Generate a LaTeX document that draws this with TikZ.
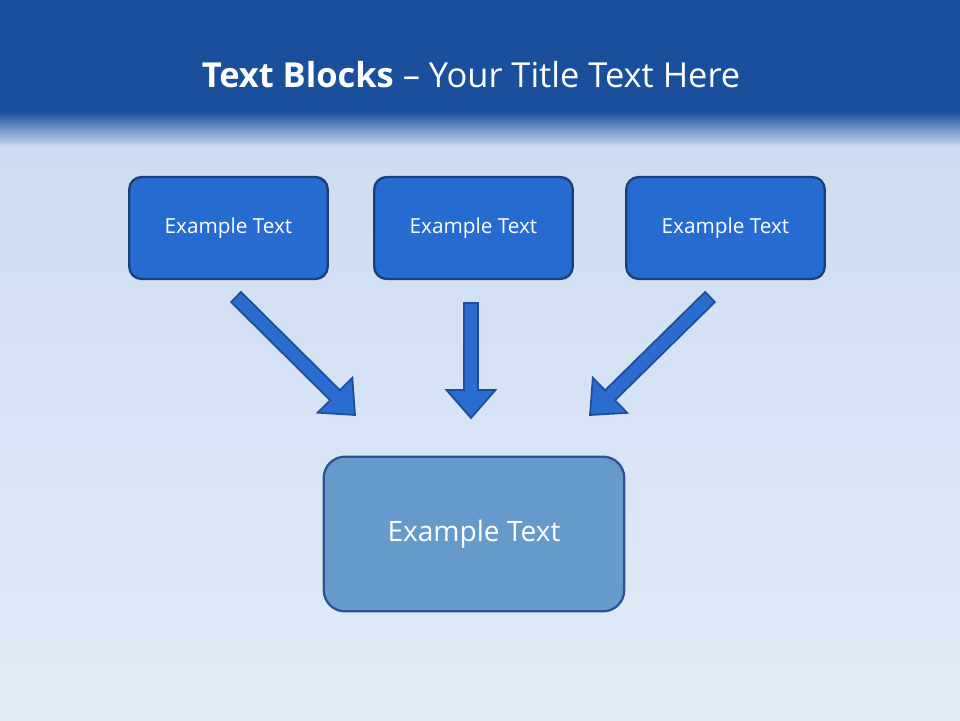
\documentclass[tikz,border=0pt]{standalone}
\usepackage{fontspec}
\setmainfont{Open Sans}
\usetikzlibrary{calc}
\definecolor{hdr}{HTML}{1A4F9C}
\definecolor{sky}{HTML}{C8D8F0}
\definecolor{skyb}{HTML}{E2ECF8}
\definecolor{boxf}{HTML}{266BD0}
\definecolor{boxd}{HTML}{1B3F78}
\definecolor{bigf}{HTML}{6699CC}
\definecolor{bigd}{HTML}{2B5590}
\definecolor{arrf}{HTML}{2A6CD0}
\definecolor{arrd}{HTML}{1E4E9A}
\tikzset{
 topbox/.style={draw=boxd,line width=1.3pt,fill=boxf,rounded corners=7pt,minimum width=113pt,minimum height=58pt,text=white,font=\fontsize{11.8}{14}\selectfont},
 bigbox/.style={draw=bigd,line width=1.3pt,fill=bigf,rounded corners=12pt,minimum width=171pt,minimum height=88pt,text=white,font=\fontsize{16}{19}\selectfont},
 blockarrow/.style={draw=arrd,line width=1pt,fill=arrf,line join=miter}
}
\newcommand{\barrow}[2]{%
 \draw[blockarrow] ($(#1)!4pt!90:(#2)$) -- ($($(#2)!16pt!(#1)$)!4pt!90:(#2)$) -- ($($(#2)!16pt!(#1)$)!14pt!90:(#2)$) -- (#2) -- ($($(#2)!16pt!(#1)$)!14pt!-90:(#2)$) -- ($($(#2)!16pt!(#1)$)!4pt!-90:(#2)$) -- ($(#1)!4pt!-90:(#2)$) -- cycle;}
\begin{document}
\begin{tikzpicture}[x=0.02cm,y=-0.02cm]
\useasboundingbox (0,0) rectangle (960,720);
\shade[bottom color=skyb,top color=sky] (0,0) rectangle (960,720);
\fill[hdr] (0,0) rectangle (960,112);
\shade[top color=hdr,bottom color=sky] (0,111.5) rectangle (960,146);
\node[text=white,font=\fontsize{19.6}{23}\selectfont] (title) at (471,75) {\textbf{Text Blocks} – Your Title Text Here};
\node[topbox] (b1) at (228.5,228) {Example Text};
\node[topbox] (b2) at (473.5,228) {Example Text};
\node[topbox] (b3) at (725.5,228) {Example Text};
\node[bigbox] (b4) at (474,534) {Example Text};
\coordinate (a1s) at (236,297); \coordinate (a1e) at (355,415);
\coordinate (a2s) at (471,303); \coordinate (a2e) at (471,418);
\coordinate (a3s) at (710,297); \coordinate (a3e) at (590,415);
\barrow{a1s}{a1e}
\barrow{a2s}{a2e}
\barrow{a3s}{a3e}
\end{tikzpicture}
\end{document}
